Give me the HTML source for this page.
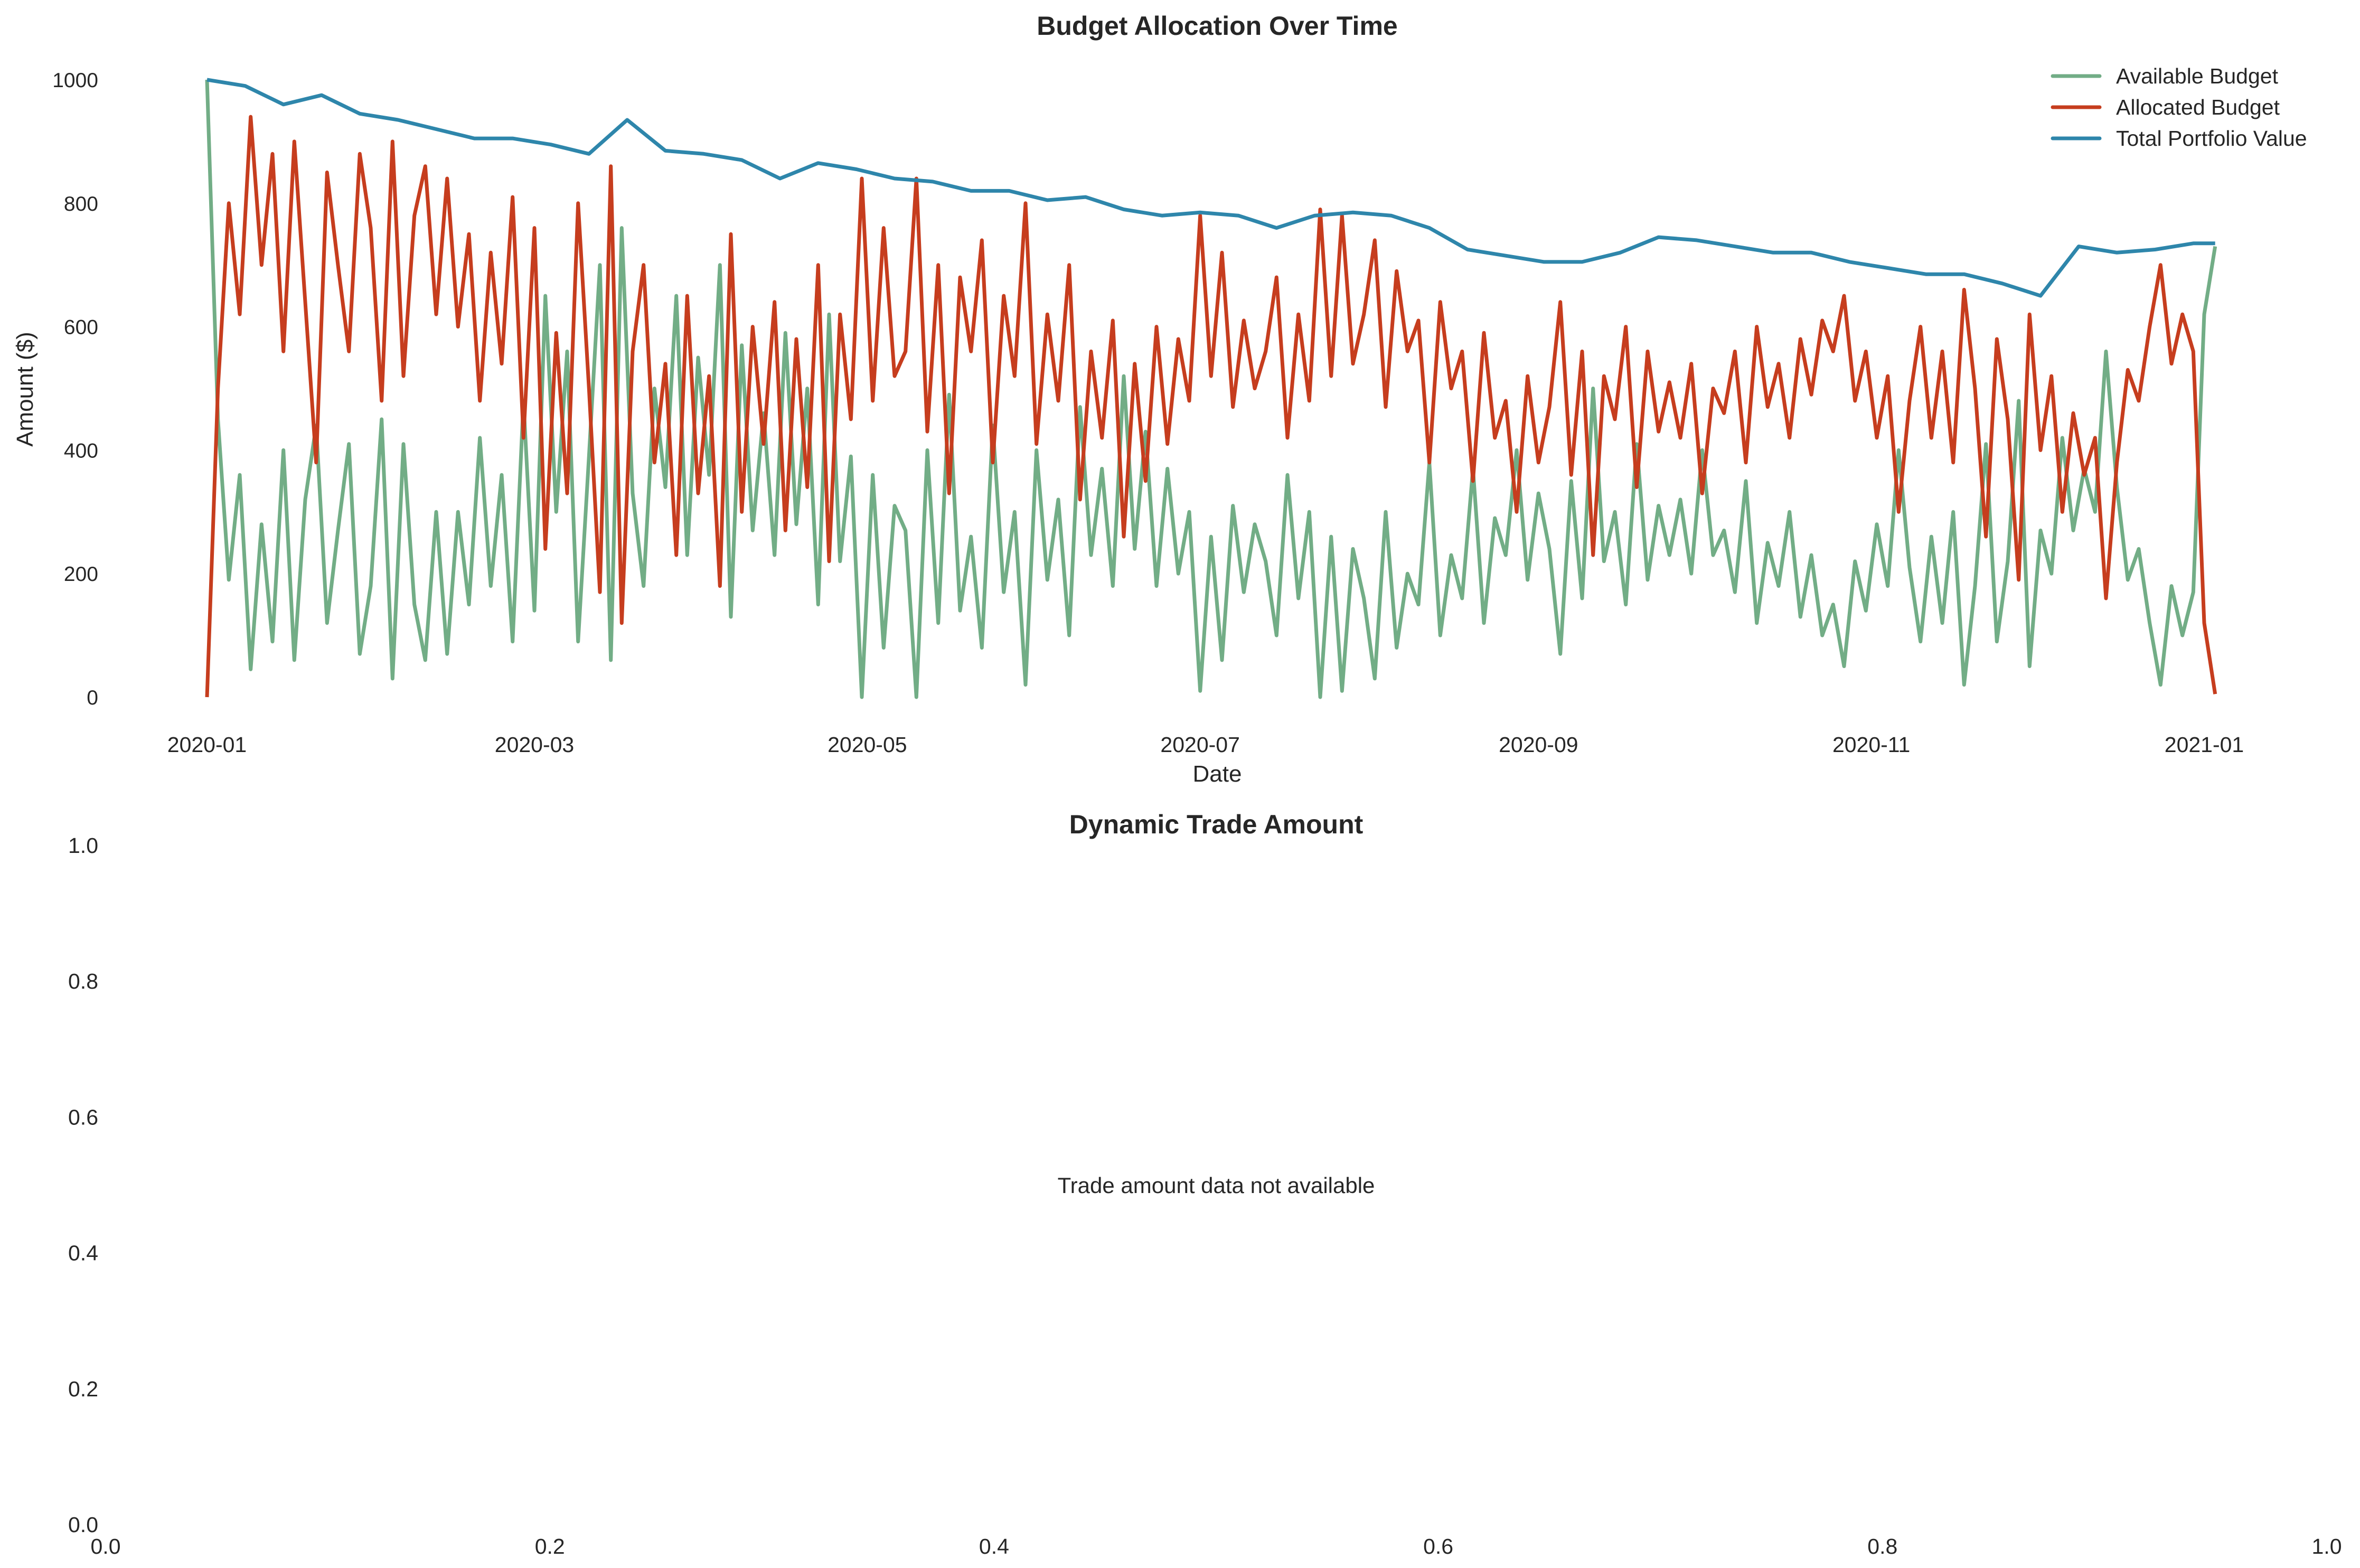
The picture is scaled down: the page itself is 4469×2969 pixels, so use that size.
<!DOCTYPE html>
<html><head><meta charset="utf-8"><style>
html,body{margin:0;padding:0;background:#fff;}
svg{display:block;font-family:"Liberation Sans",Arial,sans-serif;}
</style></head><body>
<svg id="chart" width="4469" height="2969" viewBox="0 0 4469 2969" xmlns="http://www.w3.org/2000/svg">
<rect width="4469" height="2969" fill="#fff"/>
<g id="topAxes"></g>
<g id="bottomAxes"></g>
</svg>
<script>
const allocatedDays = [];
for (let d = 0; d <= 368; d += 2) allocatedDays.push(d);
const allocatedValues = [0,500,800,620,940,700,880,560,900,640,380,850,700,560,880,760,480,900,520,780,860,620,840,600,750,480,720,540,810,420,760,240,590,330,800,500,170,860,120,560,700,380,540,230,650,330,520,180,750,300,600,410,640,270,580,340,700,220,620,450,840,480,760,520,560,840,430,700,330,680,560,740,380,650,520,800,410,620,480,700,320,560,420,610,260,540,350,600,410,580,480,780,520,720,470,610,500,560,680,420,620,480,790,520,780,540,620,740,470,690,560,610,380,640,500,560,350,590,420,480,300,520,380,470,640,360,560,230,520,450,600,340,560,430,510,420,540,330,500,460,560,380,600,470,540,420,580,490,610,560,650,480,560,420,520,300,480,600,420,560,380,660,500,260,580,450,190,620,400,520,300,460,360,420,160,380,530,480,600,700,540,620,560,120,5];
const availableValues = [1000,450,190,360,45,280,90,400,60,320,440,120,270,410,70,180,450,30,410,150,60,300,70,300,150,420,180,360,90,480,140,650,300,560,90,390,700,60,760,330,180,500,340,650,230,550,360,700,130,570,270,460,230,590,280,500,150,620,220,390,0,360,80,310,270,0,400,120,490,140,260,80,440,170,300,20,400,190,320,100,470,230,370,180,520,240,430,180,370,200,300,10,260,60,310,170,280,220,100,360,160,300,0,260,10,240,160,30,300,80,200,150,380,100,230,160,370,120,290,230,400,190,330,240,70,350,160,500,220,300,150,410,190,310,230,320,200,400,230,270,170,350,120,250,180,300,130,230,100,150,50,220,140,280,180,400,210,90,260,120,300,20,180,410,90,220,480,50,270,200,420,270,370,300,560,340,190,240,120,20,180,100,170,620,730];
const totalDays = [0,7,14,21,28,35,42,49,56,63,70,77,84,91,98,105,112,119,126,133,140,147,154,161,168,175,182,189,196,203,210,217,224,231,238,245,252,259,266,273,280,287,294,301,308,315,322,329,336,343,350,357,364,368];
const totalValues = [1000,990,960,975,945,935,920,905,905,895,880,935,885,880,870,840,865,855,840,835,820,820,805,810,790,780,785,780,760,780,785,780,760,725,715,705,705,720,745,740,730,720,720,705,695,685,685,670,650,730,720,725,735,735];
const yTicks = [0,200,400,600,800,1000];
const xTickLabels = ["2020-01","2020-03","2020-05","2020-07","2020-09","2020-11","2021-01"];
const xTickDays = [0,60,121,182,244,305,366];
const bottomTicks = [0,0.2,0.4,0.6,0.8,1.0];

const NS = "http://www.w3.org/2000/svg";
function mk(parent, tag, attrs, text) {
  const e = document.createElementNS(NS, tag);
  for (const k in attrs) e.setAttribute(k, attrs[k]);
  if (text !== undefined) e.textContent = text;
  parent.appendChild(e);
  return e;
}
const xDay = d => 392 + d * (4174 - 392) / 366;
const yAmt = v => 1320 - v * 1.169;
const xB = v => 200 + v * (4406 - 200);
const yB = v => 2887 - v * (2887 - 1601);
const TXT = "#262626";

const topG = document.getElementById('topAxes');
yTicks.forEach(v => {
  const t = mk(topG, 'text', {x: 186, y: yAmt(v) + 14, 'text-anchor': 'end', 'font-size': 39, fill: TXT}, String(v));
  
  
});
xTickLabels.forEach((lab, i) => {
  const t = mk(topG, 'text', {x: xDay(xTickDays[i]), y: 1424, 'text-anchor': 'middle', 'font-size': 41, fill: TXT}, lab);
  
  
});
let t = mk(topG, 'text', {x: 62, y: 737, 'text-anchor': 'middle', 'font-size': 44, fill: TXT, transform: 'rotate(-90 62 737)'}, 'Amount ($)');


t = mk(topG, 'text', {x: 2305, y: 1480, 'text-anchor': 'middle', 'font-size': 44, fill: TXT}, 'Date');


t = mk(topG, 'text', {x: 2305, y: 66, 'text-anchor': 'middle', 'font-size': 50, 'font-weight': 'bold', fill: TXT}, 'Budget Allocation Over Time');



function linePath(days, vals) {
  return days.map((d, i) => (i ? 'L' : 'M') + xDay(d).toFixed(1) + ' ' + yAmt(vals[i]).toFixed(1)).join(' ');
}
let p = mk(topG, 'path', {d: linePath(allocatedDays, availableValues), fill: 'none', stroke: '#72ad86', 'stroke-width': 7, 'stroke-linejoin': 'round'});


p = mk(topG, 'path', {d: linePath(allocatedDays, allocatedValues), fill: 'none', stroke: '#c63d1e', 'stroke-width': 7, 'stroke-linejoin': 'round'});


p = mk(topG, 'path', {d: linePath(totalDays, totalValues), fill: 'none', stroke: '#2e86ab', 'stroke-width': 7, 'stroke-linejoin': 'round'});



const legend = mk(topG, 'g', {});


[['Available Budget', '#72ad86', 144], ['Allocated Budget', '#c63d1e', 203], ['Total Portfolio Value', '#2e86ab', 262]].forEach(([lab, col, y]) => {
  const g = mk(legend, 'g', {});
  
  
  mk(g, 'line', {x1: 3887, x2: 3976, y1: y, y2: y, stroke: col, 'stroke-width': 7, 'stroke-linecap': 'round'});
  mk(g, 'text', {x: 4007, y: y + 14, 'font-size': 41, fill: TXT}, lab);
});

const botG = document.getElementById('bottomAxes');
bottomTicks.forEach(v => {
  const a = mk(botG, 'text', {x: 186, y: yB(v) + 14, 'text-anchor': 'end', 'font-size': 41, fill: TXT}, v.toFixed(1));
  
  
  const b = mk(botG, 'text', {x: xB(v), y: 2942, 'text-anchor': 'middle', 'font-size': 41, fill: TXT}, v.toFixed(1));
  
  
});
t = mk(botG, 'text', {x: 2303, y: 1578, 'text-anchor': 'middle', 'font-size': 50, 'font-weight': 'bold', fill: TXT}, 'Dynamic Trade Amount');


t = mk(botG, 'text', {x: xB(0.5), y: yB(0.5) + 15, 'text-anchor': 'middle', 'font-size': 42, fill: TXT}, 'Trade amount data not available');


</script>
</body></html>
